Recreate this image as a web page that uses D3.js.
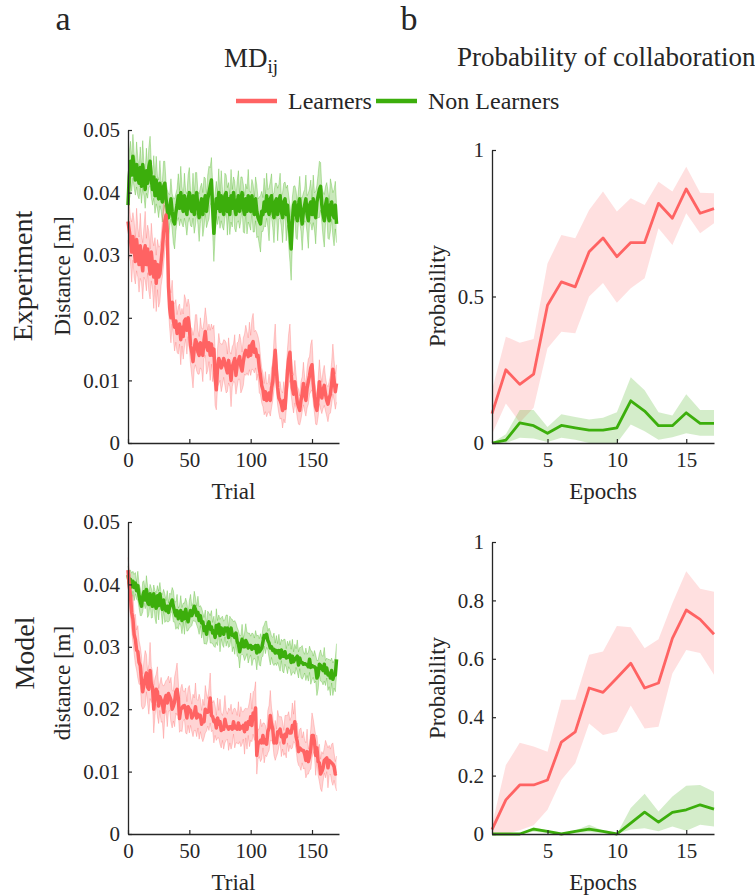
<!DOCTYPE html>
<html>
<head>
<meta charset="utf-8">
<script src="https://cdn.jsdelivr.net/npm/d3@7"></script>
<style>
  body { margin: 0; background: #fff; }
  svg text { font-family: "Liberation Serif", "Times New Roman", serif; fill: #262626; }
</style>
</head>
<body>
<div class="fig"></div>
<script>
// distances stored in units of 1e-4 m, trials 0..170
const trials = d3.range(0, 171);
const epochs = d3.range(1, 18);

const expNonMean = [
  380, 425, 450, 428, 458, 435, 420, 445, 425, 415,
  440, 410, 445, 420, 405, 435, 415, 440, 450, 420,
  405, 425, 395, 420, 400, 390, 415, 395, 385, 410,
  415, 390, 375, 360, 372, 390, 370, 355, 350, 368,
  380, 395, 375, 400, 380, 370, 395, 375, 365, 390,
  400, 375, 370, 395, 365, 390, 400, 375, 360, 380,
  390, 365, 385, 395, 370, 390, 400, 410, 420, 375,
  335, 365, 390, 375, 400, 370, 395, 375, 365, 395,
  400, 370, 390, 365, 395, 375, 400, 380, 365, 385,
  395, 370, 390, 400, 375, 365, 390, 370, 395, 375,
  370, 395, 375, 365, 390, 370, 360, 355, 350, 370,
  365, 385, 370, 395, 375, 365, 390, 395, 370, 360,
  385, 390, 365, 385, 395, 370, 360, 385, 390, 365,
  380, 355, 335, 310, 355, 380, 385, 365, 355, 380,
  390, 365, 350, 370, 380, 390, 365, 355, 380, 385,
  365, 390, 370, 360, 385, 395, 405, 410, 380, 365,
  355, 380, 390, 365, 355, 380, 385, 365, 360, 380,
  350];
const expNonSem = [
  30, 38, 32, 26, 35, 28, 24, 36, 30, 25,
  33, 27, 38, 25, 30, 36, 24, 32, 40, 28,
  25, 34, 28, 38, 26, 30, 36, 24, 32, 40,
  35, 27, 30, 38, 25, 32, 28, 36, 40, 30,
  26, 35, 28, 42, 30, 25, 36, 28, 33, 38,
  40, 28, 25, 36, 30, 42, 32, 26, 38, 29,
  25, 35, 40, 28, 26, 38, 42, 30, 36, 40,
  45, 35, 28, 26, 38, 27, 40, 30, 25, 36,
  28, 38, 26, 32, 42, 30, 25, 38, 28, 33,
  40, 27, 35, 25, 38, 30, 24, 36, 42, 28,
  30, 26, 38, 28, 35, 42, 30, 38, 45, 32,
  27, 38, 25, 36, 30, 42, 28, 35, 26, 40,
  30, 25, 42, 28, 36, 25, 40, 30, 27, 42,
  32, 40, 45, 50, 38, 30, 26, 38, 30, 25,
  36, 27, 42, 30, 25, 38, 30, 44, 27, 35,
  25, 38, 30, 42, 27, 35, 45, 38, 28, 36,
  42, 30, 26, 38, 30, 42, 27, 35, 45, 38,
  30];
const expLearnMean = [
  354, 340, 325, 305, 330, 310, 290, 325, 305, 285,
  315, 295, 275, 305, 315, 285, 310, 290, 270, 305,
  285, 265, 290, 255, 285, 265, 270, 290, 310, 335,
  355, 364, 340, 250, 215, 200, 225, 195, 185, 195,
  175, 180, 190, 165, 185, 170, 195, 198, 180, 200,
  185, 155, 145, 130, 150, 165, 160, 145, 140, 160,
  150, 140, 165, 178, 155, 148, 160, 140, 158, 140,
  150, 105, 85, 120, 135, 130, 120, 125, 135, 128,
  120, 112, 132, 118, 100, 122, 128, 135, 108, 125,
  132, 138, 122, 115, 130, 142, 148, 145, 138, 155,
  140, 158, 162, 145, 150, 138, 140, 120, 108, 92,
  85, 70, 82, 68, 72, 80, 68, 88, 98, 125,
  148, 115, 88, 72, 68, 62, 52, 68, 55, 85,
  115, 135, 145, 110, 88, 78, 98, 82, 65, 58,
  52, 68, 78, 95, 78, 68, 88, 98, 108, 120,
  125, 95, 75, 58, 52, 72, 98, 82, 72, 85,
  92, 78, 68, 62, 72, 78, 95, 118, 100, 82,
  95];
const expLearnSem = [
  30, 42, 35, 48, 38, 45, 36, 50, 40, 44,
  52, 38, 45, 40, 55, 42, 38, 48, 40, 46,
  40, 50, 38, 45, 40, 48, 44, 38, 45, 50,
  48, 40, 42, 38, 32, 40, 35, 30, 38, 34,
  30, 38, 32, 40, 30, 36, 42, 32, 38, 30,
  36, 30, 38, 42, 32, 40, 45, 35, 30, 40,
  33, 42, 30, 38, 45, 32, 30, 40, 32, 42,
  38, 45, 32, 30, 40, 30, 38, 33, 30, 36,
  40, 30, 36, 28, 42, 32, 30, 38, 30, 35,
  30, 36, 42, 30, 38, 32, 40, 33, 30, 38,
  32, 40, 45, 33, 30, 38, 30, 40, 30, 28,
  27, 25, 32, 26, 24, 30, 25, 32, 30, 40,
  42, 32, 28, 25, 30, 22, 28, 30, 23, 32,
  35, 40, 45, 33, 28, 30, 34, 27, 25, 28,
  23, 30, 28, 34, 27, 25, 32, 36, 30, 38,
  40, 30, 27, 28, 23, 30, 35, 28, 25, 30,
  32, 27, 25, 28, 26, 30, 34, 40, 32, 28,
  30];

const modNonMean = [
  415, 402, 408, 396, 405, 395, 402, 390, 398, 382,
  372, 365, 380, 388, 375, 392, 372, 368, 385, 370,
  365, 385, 368, 362, 382, 366, 385, 372, 360, 375,
  362, 358, 365, 355, 364, 370, 375, 365, 356, 350,
  358, 345, 352, 358, 342, 355, 345, 360, 348, 340,
  352, 358, 350, 356, 365, 360, 350, 355, 342, 350,
  338, 340, 326, 332, 320, 334, 340, 328, 332, 322,
  325, 315, 334, 322, 336, 318, 330, 326, 320, 330,
  326, 330, 315, 325, 330, 318, 320, 315, 322, 308,
  305, 292, 302, 312, 300, 300, 310, 306, 298, 302,
  302, 296, 300, 298, 302, 290, 302, 292, 295, 298,
  308, 318, 315, 320, 310, 306, 298, 300, 294, 296,
  290, 294, 290, 294, 282, 295, 285, 285, 292, 282,
  283, 285, 287, 275, 285, 276, 280, 282, 285, 271,
  282, 275, 275, 272, 273, 272, 271, 268, 280, 267,
  270, 268, 268, 266, 250, 255, 272, 270, 265, 262,
  272, 258, 266, 255, 258, 250, 262, 248, 256, 255,
  280];
const modNonSem = [
  14, 20, 15, 22, 16, 21, 17, 14, 23, 19,
  22, 15, 24, 18, 14, 22, 25, 17, 15, 24,
  18, 14, 22, 25, 16, 23, 18, 14, 24, 17,
  23, 16, 25, 15, 22, 14, 20, 25, 16, 22,
  26, 17, 14, 24, 21, 15, 25, 18, 23, 14,
  22, 26, 16, 14, 24, 19, 15, 26, 22, 16,
  24, 15, 21, 27, 16, 23, 14, 22, 26, 17,
  24, 16, 27, 20, 15, 26, 17, 23, 21, 14,
  25, 21, 16, 24, 15, 26, 20, 27, 16, 23,
  21, 26, 16, 24, 14, 22, 27, 17, 24, 20,
  15, 26, 21, 16, 24, 27, 17, 21, 26, 15,
  23, 17, 26, 21, 15, 24, 27, 17, 21, 26,
  16, 24, 15, 26, 21, 17, 24, 27, 20, 15,
  26, 17, 23, 21, 27, 16, 24, 15, 26, 21,
  17, 24, 27, 20, 15, 26, 17, 23, 21, 27,
  23, 17, 26, 21, 28, 23, 17, 25, 21, 23,
  27, 20, 16, 25, 22, 28, 20, 26, 22, 27,
  25];
const modLearnMean = [
  423, 398, 382, 355, 345, 320, 312, 295, 292, 275,
  270, 245, 228, 240, 250, 258, 235, 232, 262, 240,
  235, 200, 220, 232, 228, 205, 220, 215, 210, 195,
  215, 222, 210, 225, 220, 215, 200, 205, 212, 228,
  232, 218, 185, 200, 202, 205, 206, 198, 186, 204,
  200, 198, 186, 190, 192, 204, 186, 192, 188, 190,
  176, 182, 180, 200, 195, 195, 200, 218, 190, 188,
  180, 182, 170, 186, 176, 180, 166, 170, 168, 184,
  174, 172, 168, 172, 172, 168, 180, 170, 172, 168,
  178, 168, 172, 170, 174, 164, 178, 168, 180, 176,
  188, 174, 194, 190, 202, 126, 144, 146, 150, 146,
  158, 146, 150, 144, 164, 170, 190, 176, 168, 146,
  150, 146, 164, 164, 168, 156, 158, 146, 160, 156,
  168, 164, 162, 162, 174, 170, 180, 156, 148, 132,
  138, 136, 134, 134, 128, 118, 132, 116, 124, 136,
  158, 158, 148, 126, 138, 116, 114, 96, 100, 106,
  118, 120, 122, 106, 118, 116, 114, 112, 108, 96,
  97];
const modLearnSem = [
  20, 26, 34, 28, 38, 30, 40, 32, 42, 35,
  30, 40, 28, 38, 44, 30, 26, 40, 45, 28,
  26, 38, 30, 24, 40, 28, 22, 36, 30, 42,
  26, 24, 38, 28, 22, 36, 30, 24, 40, 34,
  42, 26, 22, 34, 38, 24, 22, 36, 26, 30,
  38, 24, 22, 34, 26, 38, 30, 22, 36, 26,
  22, 34, 26, 38, 30, 22, 34, 40, 26, 22,
  34, 24, 20, 32, 22, 36, 28, 20, 32, 38,
  24, 20, 34, 26, 36, 24, 20, 32, 26, 22,
  34, 20, 32, 26, 22, 36, 24, 32, 22, 36,
  38, 26, 34, 40, 42, 30, 24, 22, 34, 26,
  20, 32, 24, 20, 34, 36, 40, 26, 22, 20,
  32, 22, 34, 24, 20, 32, 22, 20, 30, 34,
  22, 32, 20, 26, 36, 22, 34, 20, 30, 22,
  30, 34, 20, 30, 22, 28, 36, 20, 22, 32,
  36, 26, 22, 32, 20, 22, 30, 24, 32, 22,
  20, 30, 22, 32, 24, 20, 30, 34, 22, 20,
  28];

// probability of collaboration per epoch (mean, lower, upper)
const probExpLearn   = [0.10, 0.25, 0.20, 0.235, 0.47, 0.55, 0.533, 0.653, 0.70, 0.636, 0.684, 0.684, 0.818, 0.767, 0.867, 0.784, 0.80];
const probExpLearnLo = [0.03, 0.135, 0.07, 0.12, 0.323, 0.38, 0.375, 0.50, 0.546, 0.479, 0.528, 0.562, 0.733, 0.676, 0.784, 0.716, 0.75];
const probExpLearnHi = [0.18, 0.363, 0.342, 0.355, 0.613, 0.71, 0.699, 0.795, 0.858, 0.79, 0.835, 0.812, 0.892, 0.858, 0.943, 0.854, 0.852];
const probExpNon     = [0, 0.01, 0.069, 0.059, 0.033, 0.06, 0.052, 0.044, 0.044, 0.052, 0.144, 0.109, 0.059, 0.059, 0.103, 0.067, 0.067];
const probExpNonLo   = [0, 0, 0.018, 0.015, 0.003, 0.018, 0.011, 0, 0, 0, 0.063, 0.04, 0.011, 0.02, 0.033, 0.025, 0.025];
const probExpNonHi   = [0, 0.03, 0.113, 0.113, 0.055, 0.098, 0.089, 0.08, 0.086, 0.105, 0.224, 0.18, 0.105, 0.094, 0.166, 0.113, 0.113];

const probModLearn   = [0.015, 0.117, 0.168, 0.168, 0.185, 0.315, 0.35, 0.50, 0.485, 0.534, 0.585, 0.50, 0.517, 0.67, 0.767, 0.735, 0.684];
const probModLearnLo = [0, 0, 0.0125, 0.03, 0.083, 0.185, 0.242, 0.378, 0.339, 0.35, 0.44, 0.361, 0.367, 0.55, 0.63, 0.62, 0.545];
const probModLearnHi = [0.03, 0.236, 0.3125, 0.30, 0.282, 0.46, 0.46, 0.614, 0.625, 0.7125, 0.708, 0.636, 0.667, 0.79, 0.90, 0.84, 0.83];
const probModNon     = [0, 0, 0, 0.017, 0.009, 0, 0.009, 0.017, 0.009, 0, 0.0375, 0.075, 0.041, 0.074, 0.083, 0.10, 0.085];
const probModNonLo   = [0, 0, 0, 0.008, 0.003, 0, 0.003, 0.006, 0.003, 0, 0.015, 0.02, 0.009, 0.026, 0.011, 0.032, 0.026];
const probModNonHi   = [0, 0, 0, 0.023, 0.012, 0, 0.012, 0.032, 0.012, 0, 0.089, 0.1375, 0.077, 0.128, 0.165, 0.168, 0.145];

const RED = "#ff6363";
const GREEN = "#3cae0c";
const AXIS_COL = "#262626";
const FONT_TICK = 21;

const svg = d3.select(".fig").append("svg")
  .attr("width", 755)
  .attr("height", 895);

function series(xs, mean, lo, hi) {
  return xs.map((x, i) => ({x: x, m: mean[i], lo: lo[i], hi: hi[i]}));
}

function distSeries(mean, sem) {
  return series(trials,
    mean.map(v => v / 1e4),
    mean.map((v, i) => (v - sem[i]) / 1e4),
    mean.map((v, i) => (v + sem[i]) / 1e4));
}

function probSeries(mean, lo, hi) {
  return series(epochs, mean, lo, hi);
}

function drawPanel(p) {
  const x = d3.scaleLinear().domain(p.xDomain).range([p.left, p.right]);
  const y = d3.scaleLinear().domain(p.yDomain).range([p.bottom, p.top]);
  const g = svg.append("g");

  const area = d3.area().x(d => x(d.x)).y0(d => y(d.lo)).y1(d => y(d.hi));
  const line = d3.line().x(d => x(d.x)).y(d => y(d.m));

  p.series.forEach(s => {
    g.append("path")
      .attr("d", area(s.data))
      .attr("fill", s.color)
      .attr("fill-opacity", s.bandOpacity);
    if (p.edges) {
      g.append("path").attr("d", d3.line().x(d => x(d.x)).y(d => y(d.lo))(s.data))
        .attr("fill", "none").attr("stroke", s.color).attr("stroke-opacity", 0.3).attr("stroke-width", 1);
      g.append("path").attr("d", d3.line().x(d => x(d.x)).y(d => y(d.hi))(s.data))
        .attr("fill", "none").attr("stroke", s.color).attr("stroke-opacity", 0.3).attr("stroke-width", 1);
    }
  });
  p.series.forEach(s => {
    g.append("path")
      .attr("d", line(s.data))
      .attr("fill", "none")
      .attr("stroke", s.color)
      .attr("stroke-width", p.lineWidth)
      .attr("stroke-linejoin", "round");
  });

  const fmt = d3.format("~g");
  const xAxis = d3.axisBottom(x).tickValues(p.xTicks).tickFormat(fmt)
    .tickSizeInner(-4).tickSizeOuter(0).tickPadding(9);
  const yAxis = d3.axisLeft(y).tickValues(p.yTicks).tickFormat(fmt)
    .tickSizeInner(-4).tickSizeOuter(0).tickPadding(8);

  const gx = g.append("g").attr("transform", "translate(0," + p.bottom + ")").call(xAxis);
  const gy = g.append("g").attr("transform", "translate(" + p.left + ",0)").call(yAxis);
  [gx, gy].forEach(a => {
    a.select(".domain").attr("stroke", AXIS_COL).attr("stroke-width", 1.3);
    a.selectAll(".tick line").attr("stroke", AXIS_COL).attr("stroke-width", 1.2);
    a.selectAll(".tick text")
      .attr("fill", AXIS_COL)
      .style("font-family", "Liberation Serif, serif")
      .style("font-size", FONT_TICK + "px");
  });

  g.append("text")
    .text(p.xLabel)
    .attr("x", (p.left + p.right) / 2)
    .attr("y", p.bottom + 56)
    .attr("text-anchor", "middle")
    .style("font-size", "23px");

  g.append("text")
    .text(p.yLabel)
    .attr("transform", "translate(" + p.yLabelX + "," + p.yLabelY + ") rotate(-90)")
    .attr("text-anchor", "middle")
    .style("font-size", "23px");
}

const LEFT_A = 128, RIGHT_A = 339;
const LEFT_B = 492, RIGHT_B = 714;

drawPanel({
  left: LEFT_A, right: RIGHT_A, top: 130, bottom: 443,
  xDomain: [0, 172], yDomain: [0, 0.05],
  xTicks: [0, 50, 100, 150], yTicks: [0, 0.01, 0.02, 0.03, 0.04, 0.05],
  lineWidth: 3.5, edges: true,
  xLabel: "Trial", yLabel: "Distance [m]", yLabelX: 70, yLabelY: 276,
  series: [
    {data: distSeries(expNonMean, expNonSem), color: GREEN, bandOpacity: 0.28},
    {data: distSeries(expLearnMean, expLearnSem), color: RED, bandOpacity: 0.28}
  ]
});

drawPanel({
  left: LEFT_A, right: RIGHT_A, top: 522, bottom: 834,
  xDomain: [0, 172], yDomain: [0, 0.05],
  xTicks: [0, 50, 100, 150], yTicks: [0, 0.01, 0.02, 0.03, 0.04, 0.05],
  lineWidth: 3.5, edges: true,
  xLabel: "Trial", yLabel: "distance [m]", yLabelX: 70, yLabelY: 683,
  series: [
    {data: distSeries(modNonMean, modNonSem), color: GREEN, bandOpacity: 0.28},
    {data: distSeries(modLearnMean, modLearnSem), color: RED, bandOpacity: 0.28}
  ]
});

drawPanel({
  left: LEFT_B, right: RIGHT_B, top: 150, bottom: 443,
  xDomain: [1, 17], yDomain: [0, 1],
  xTicks: [5, 10, 15], yTicks: [0, 0.5, 1],
  lineWidth: 2.8, edges: false,
  xLabel: "Epochs", yLabel: "Probability", yLabelX: 445, yLabelY: 296,
  series: [
    {data: probSeries(probExpLearn, probExpLearnLo, probExpLearnHi), color: RED, bandOpacity: 0.2},
    {data: probSeries(probExpNon, probExpNonLo, probExpNonHi), color: GREEN, bandOpacity: 0.22}
  ]
});

drawPanel({
  left: LEFT_B, right: RIGHT_B, top: 542, bottom: 834,
  xDomain: [1, 17], yDomain: [0, 1],
  xTicks: [5, 10, 15], yTicks: [0, 0.2, 0.4, 0.6, 0.8, 1],
  lineWidth: 2.8, edges: false,
  xLabel: "Epochs", yLabel: "Probability", yLabelX: 445, yLabelY: 688,
  series: [
    {data: probSeries(probModLearn, probModLearnLo, probModLearnHi), color: RED, bandOpacity: 0.2},
    {data: probSeries(probModNon, probModNonLo, probModNonHi), color: GREEN, bandOpacity: 0.22}
  ]
});

// row labels
svg.append("text").text("Experiment")
  .attr("transform", "translate(32,276) rotate(-90)")
  .attr("text-anchor", "middle").style("font-size", "28px");
svg.append("text").text("Model")
  .attr("transform", "translate(34,653) rotate(-90)")
  .attr("text-anchor", "middle").style("font-size", "28px");

// panel letters and titles
svg.append("text").text("a").attr("x", 63).attr("y", 30)
  .attr("text-anchor", "middle").style("font-size", "34px");
svg.append("text").text("b").attr("x", 409).attr("y", 30)
  .attr("text-anchor", "middle").style("font-size", "34px");

const md = svg.append("text").attr("x", 224).attr("y", 67).style("font-size", "27px");
md.append("tspan").text("MD");
md.append("tspan").text("ij").attr("dy", 6).style("font-size", "19px");

svg.append("text").text("Probability of collaboration")
  .attr("x", 457).attr("y", 66).style("font-size", "27px");

// legend
const legend = [
  {name: "Learners", color: RED, x: 236},
  {name: "Non Learners", color: GREEN, x: 376}
];
legend.forEach(l => {
  svg.append("line")
    .attr("x1", l.x).attr("x2", l.x + 41)
    .attr("y1", 101).attr("y2", 101)
    .attr("stroke", l.color).attr("stroke-width", 4.5);
  svg.append("text").text(l.name)
    .attr("x", l.x + 52).attr("y", 109)
    .style("font-size", "24px");
});
</script>
</body>
</html>
